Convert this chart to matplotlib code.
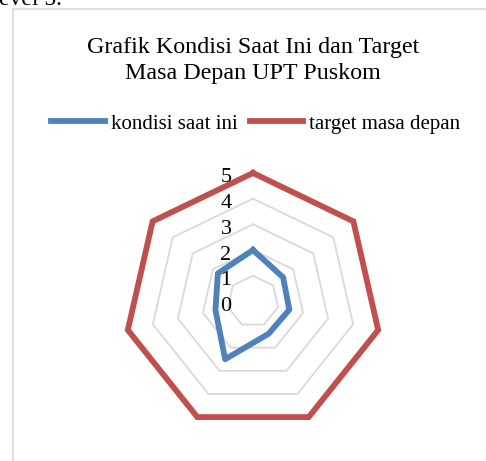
import numpy as np
import matplotlib
matplotlib.use("Agg")
import matplotlib.pyplot as plt
from matplotlib.patches import Rectangle
from matplotlib.lines import Line2D
import matplotlib.transforms as mtransforms

plt.rcParams['font.family'] = ['Liberation Serif', 'DejaVu Serif']

# data
n_axes = 7
kondisi = [2.0, 1.5, 1.45, 1.4, 2.5, 1.5, 1.75]
target = [5, 5, 5, 5, 5, 5, 5]
levels = [0, 1, 2, 3, 4, 5]

W, H = 486, 461
fig = plt.figure(figsize=(W / 100, H / 100), dpi=100)

# chart border (cropped at right / bottom)
fig.patches.append(Rectangle((12.5 / W, -0.1), 1.2, 1 - 8.5 / H + 0.1,
                             transform=fig.transFigure, fill=False,
                             edgecolor='#d9d9d9', lw=1.2))

# cropped text above the chart
fig.text(-1 / W, 1 - 5 / H, "evel 5.", fontsize=17, ha='left', va='baseline')

fig.text(253 / W, 1 - 47 / H, "Grafik Kondisi Saat Ini dan Target",
         fontsize=17.3, ha='center', va='center')
fig.text(253 / W, 1 - 73 / H, "Masa Depan UPT Puskom",
         fontsize=17.3, ha='center', va='center')

cx, cy, R = 253, 301.4, 128.4
ax = fig.add_axes([(cx - R) / W, 1 - (cy + R) / H, 2 * R / W, 2 * R / H],
                  projection='polar')
ax.set_theta_zero_location('N')
ax.set_theta_direction(-1)
ax.set_ylim(0, 5)
ax.grid(False)
ax.spines['polar'].set_visible(False)
ax.set_xticks([])
ax.set_yticks([])
ax.patch.set_alpha(0)

theta = np.linspace(0, 2 * np.pi, n_axes, endpoint=False)
th_closed = np.append(theta, theta[0])

for lv in levels[1:]:
    ax.plot(th_closed, [lv] * (n_axes + 1), color='#d9d9d9', lw=1.3, zorder=1)

ax.plot(th_closed, np.append(kondisi, kondisi[0]), color='#4f81bd', lw=4.2,
        solid_joinstyle='round', zorder=3, clip_on=False)
ax.plot(th_closed, np.append(target, target[0]), color='#c0504d', lw=4.2,
        solid_joinstyle='miter', zorder=3, clip_on=False)

off = mtransforms.offset_copy(ax.transData, fig=fig, x=-27, y=-5, units='dots')
for lv in levels:
    ax.text(0, lv, str(lv), transform=off, fontsize=16, ha='center',
            va='center', zorder=4)

handles = [Line2D([], [], color='#4f81bd', lw=4.2),
           Line2D([], [], color='#c0504d', lw=4.2)]
fig.legend(handles, ["kondisi saat ini", "target masa depan"],
           loc='center', bbox_to_anchor=(256 / W, 1 - 124 / H), ncol=2,
           frameon=False, fontsize=15, handlelength=2.55, handletextpad=0.3,
           columnspacing=0.6)

fig.savefig("out.png", dpi=100)
